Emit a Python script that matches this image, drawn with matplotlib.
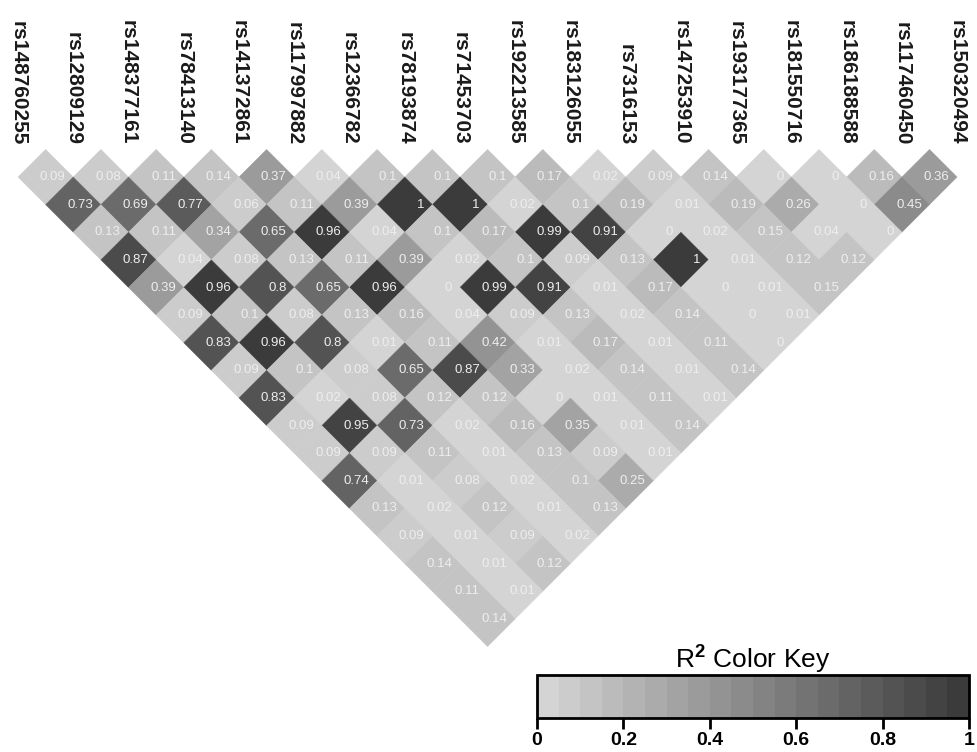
import numpy as np
import matplotlib
matplotlib.use("Agg")
import matplotlib.pyplot as plt
from matplotlib.patches import Polygon
from matplotlib.colors import ListedColormap, BoundaryNorm

plt.rcParams['font.family'] = ['Liberation Sans', 'DejaVu Sans']
plt.rcParams['mathtext.fontset'] = 'custom'
plt.rcParams['mathtext.rm'] = 'Liberation Sans'
plt.rcParams['mathtext.bf'] = 'Liberation Sans:bold'

snps = ["rs148760255", "rs12809129", "rs148377161", "rs78413140", "rs141372861",
        "rs117997882", "rs12366782", "rs78193874", "rs71453703", "rs192213585",
        "rs183126055", "rs7316153", "rs147253910", "rs193177365", "rs181550716",
        "rs186188588", "rs117460450", "rs150320494"]

# r2 values, one list per distance between SNPs (1 = neighbours)
d1 = [0.09, 0.08, 0.11, 0.14, 0.37, 0.04, 0.1, 0.1, 0.1, 0.17, 0.02, 0.09, 0.14, 0, 0, 0.16, 0.36]
d2 = [0.73, 0.69, 0.77, 0.06, 0.11, 0.39, 1, 1, 0.02, 0.1, 0.19, 0.01, 0.19, 0.26, 0, 0.45]
d3 = [0.13, 0.11, 0.34, 0.65, 0.96, 0.04, 0.1, 0.17, 0.99, 0.91, 0, 0.02, 0.15, 0.04, 0]
d4 = [0.87, 0.04, 0.08, 0.13, 0.11, 0.39, 0.02, 0.1, 0.09, 0.13, 1, 0.01, 0.12, 0.12]
d5 = [0.39, 0.96, 0.8, 0.65, 0.96, 0, 0.99, 0.91, 0.01, 0.17, 0, 0.01, 0.15]
d6 = [0.09, 0.1, 0.08, 0.13, 0.16, 0.04, 0.09, 0.13, 0.02, 0.14, 0, 0.01]
d7 = [0.83, 0.96, 0.8, 0.01, 0.11, 0.42, 0.01, 0.17, 0.01, 0.11, 0]
d8 = [0.09, 0.1, 0.08, 0.65, 0.87, 0.33, 0.02, 0.14, 0.01, 0.14]
d9 = [0.83, 0.02, 0.08, 0.12, 0.12, 0, 0.01, 0.11, 0.01]
d10 = [0.09, 0.95, 0.73, 0.02, 0.16, 0.35, 0.01, 0.14]
d11 = [0.09, 0.09, 0.11, 0.01, 0.13, 0.09, 0.01]
d12 = [0.74, 0.01, 0.08, 0.02, 0.1, 0.25]
d13 = [0.13, 0.02, 0.12, 0.01, 0.13]
d14 = [0.09, 0.01, 0.09, 0.02]
d15 = [0.14, 0.01, 0.12]
d16 = [0.11, 0.01]
d17 = [0.14]
rows = [d1, d2, d3, d4, d5, d6, d7, d8, d9, d10, d11, d12, d13, d14, d15, d16, d17]

key_ticks = [0, 0.2, 0.4, 0.6, 0.8, 1]

# stepped grey key, 20 steps
grays = np.linspace(0.83, 0.23, 20)
cmap = ListedColormap([(g, g, g) for g in grays])
bounds = np.linspace(0, 1, 21)
norm = BoundaryNorm(bounds, cmap.N)

fig = plt.figure(figsize=(9.78, 7.52), dpi=100)
ax = fig.add_axes([0, 0, 1, 1])
ax.set_xlim(-0.326, 17.378)
ax.set_ylim(-10.909, 2.705)
ax.axis('off')

for d, row in enumerate(rows, start=1):
    for i, v in enumerate(row):
        j = i + d
        cx = (i + j) / 2
        cy = -d / 2
        verts = [(cx - 0.5, cy), (cx, cy + 0.5), (cx + 0.5, cy), (cx, cy - 0.5)]
        c = cmap(norm(v))
        ax.add_patch(Polygon(verts, closed=True, facecolor=c, edgecolor=c, linewidth=0.3))
        ax.text(cx + 0.36, cy, f"{v:g}", ha='right', va='center',
                fontsize=9.5, color='#eeeeee')

for i, name in enumerate(snps):
    ax.text(i, 0.08, name, rotation=-90, ha='center', va='bottom',
            fontsize=15, fontweight='bold', color='#1a1a1a')

# colour key
cax = fig.add_axes([537 / 978, 1 - 718 / 752, 432 / 978, 43 / 752])
cb = matplotlib.colorbar.ColorbarBase(cax, cmap=cmap, norm=norm,
                                      orientation='horizontal', ticks=key_ticks)
cb.outline.set_linewidth(2)
cax.minorticks_off()
cb.ax.set_xticks(key_ticks)
cb.ax.set_xticklabels([f"{t:g}" for t in key_ticks], fontsize=14, fontweight='bold')
cb.ax.tick_params(length=8, width=2, pad=2)
cax.set_title(r"R$^\mathbf{2}$ Color Key", fontsize=19, pad=3)

fig.savefig("out.png", dpi=100)
